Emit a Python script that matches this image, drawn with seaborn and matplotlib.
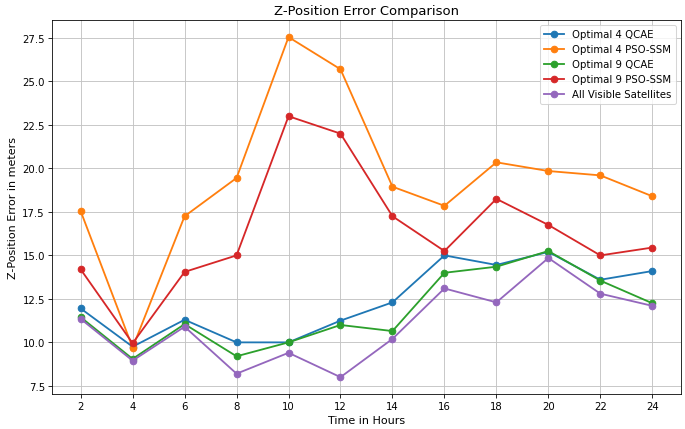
import matplotlib
matplotlib.use('Agg')
import matplotlib.pyplot as plt
import seaborn as sns
import pandas as pd

horas = [2, 4, 6, 8, 10, 12, 14, 16, 18, 20, 22, 24]

opt4_qcae = [11.95, 9.75, 11.3, 10.0, 10.0, 11.25, 12.3, 15.0, 14.45, 15.2, 13.6, 14.1]
opt4_pso = [17.55, 9.7, 17.25, 19.45, 27.55, 25.7, 18.95, 17.85, 20.35, 19.85, 19.6, 18.4]
opt9_qcae = [11.45, 9.05, 11.05, 9.2, 10.0, 11.0, 10.65, 14.0, 14.35, 15.25, 13.55, 12.25]
opt9_pso = [14.2, 9.95, 14.05, 15.0, 23.0, 22.0, 17.25, 15.25, 18.25, 16.75, 15.0, 15.45]
todos_visiveis = [11.35, 8.95, 10.9, 8.2, 9.4, 8.0, 10.2, 13.1, 12.3, 14.85, 12.8, 12.1]

series = {
    'Optimal 4 QCAE': opt4_qcae,
    'Optimal 4 PSO-SSM': opt4_pso,
    'Optimal 9 QCAE': opt9_qcae,
    'Optimal 9 PSO-SSM': opt9_pso,
    'All Visible Satellites': todos_visiveis,
}
cores = sns.color_palette('tab10', 5)

dpi = 73
fig, ax = plt.subplots(figsize=(685 / dpi, 430 / dpi), dpi=dpi)
fig.subplots_adjust(left=0.076, right=0.994, top=0.951, bottom=0.081)

for (nome, valores), cor in zip(series.items(), cores):
    df = pd.DataFrame({'Hora': horas, 'Erro': valores})
    sns.lineplot(data=df, x='Hora', y='Erro', ax=ax, color=cor, marker='o',
                 markersize=6.5, markeredgecolor=cor, markeredgewidth=1,
                 linewidth=1.8, label=nome)

ax.set_xticks(horas)
ax.grid(True, color='#c4c4c4', linewidth=0.9)
ax.set_title('Z-Position Error Comparison', fontsize=13)
ax.set_xlabel('Time in Hours', fontsize=11)
ax.set_ylabel('Z-Position Error in meters', fontsize=11)
ax.legend(loc='upper right')

fig.savefig('out.png', dpi=dpi)
